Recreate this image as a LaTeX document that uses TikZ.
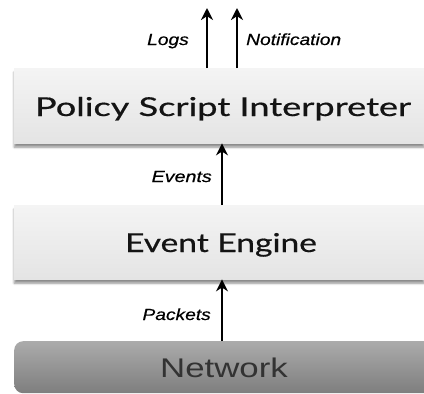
\documentclass[tikz,border=0pt]{standalone}
\usepackage{fontspec}
\usepackage{graphicx}
\setmainfont{Liberation Sans}
\newfontfamily\gillfont[FakeBold=0.5]{Lato}
\newfontfamily\lblfont[FakeBold=0.4]{Liberation Sans}
\usetikzlibrary{arrows.meta,shadows.blur}
\definecolor{boxtop}{HTML}{F4F4F4}
\definecolor{boxbot}{HTML}{E4E4E4}
\definecolor{nettop}{HTML}{ABABAB}
\definecolor{netbot}{HTML}{7E7E7E}
\definecolor{nettext}{HTML}{333333}
\begin{document}
\begin{tikzpicture}[x=1pt,y=1pt,
  layerbox/.style={draw=none, rectangle, top color=boxtop, bottom color=boxbot,
    minimum width=410pt, inner sep=0pt, anchor=north west,
    blur shadow={shadow xshift=0pt, shadow yshift=-4pt, shadow blur steps=8, shadow opacity=45}},
  netbox/.style={draw=none, rectangle, rounded corners=9pt, top color=nettop, bottom color=netbot,
    minimum width=430pt, minimum height=52pt, inner sep=0pt, anchor=north west},
  titletext/.style={inner sep=0pt, font=\gillfont\fontsize{26}{30}\selectfont, text=black!92},
  nettitle/.style={inner sep=0pt, font=\fontsize{27}{30}\selectfont, text=nettext},
  lbl/.style={inner sep=0pt, font=\lblfont\itshape\fontsize{16}{19}\selectfont, text=black},
  arr/.style={line width=2.2pt, -{Stealth[length=12pt,width=12pt]}}
]
\clip (0,0) rectangle (424,-394);
\node[layerbox, minimum height=75pt] (psi) at (14,-68) {};
\node[layerbox, minimum height=74pt] (ee) at (14,-205) {};
\node[netbox] (net) at (14,-341) {};
\node[titletext, anchor=base] (psit) at (223,-116) {\scalebox{1.39}[1]{Policy Script Interpreter}};
\node[titletext, anchor=base] (eet) at (221,-252) {\scalebox{1.29}[1]{Event Engine}};
\node[nettitle, anchor=base] (nett) at (224,-377) {\scalebox{1.29}[1]{Network}};
\coordinate (logsend) at (207,-8);
\coordinate (notifend) at (237,-8);
\coordinate (mid) at (222,0);
\draw[arr] (psi.north -| logsend) -- (logsend);
\draw[arr] (psi.north -| notifend) -- (notifend);
\draw[arr] (ee.north -| mid) -- (psi.south -| mid);
\draw[arr] (net.north -| mid) -- (ee.south -| mid);
\node[lbl, anchor=base east] (logs) at (189,-45) {\scalebox{1.2}[1]{Logs}};
\node[lbl, anchor=base west] (notif) at (246,-45) {\scalebox{1.2}[1]{Notification}};
\node[lbl, anchor=base east] (events) at (212,-182) {\scalebox{1.23}[1]{Events}};
\node[lbl, anchor=base east] (packets) at (211,-320) {\scalebox{1.2}[1]{Packets}};
\end{tikzpicture}
\end{document}
